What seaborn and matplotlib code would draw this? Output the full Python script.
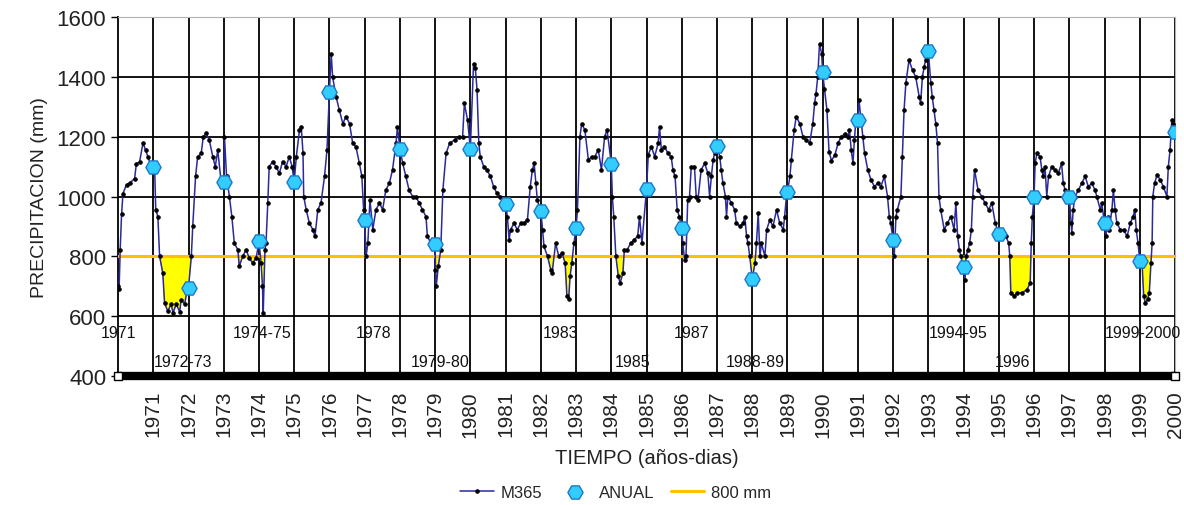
import numpy as np
import pandas as pd
import matplotlib
matplotlib.use("Agg")
import matplotlib.pyplot as plt
import seaborn as sns

# ---------------- data ----------------
# yearly totals (value of M365 at the end of each year)
years = list(range(1971, 2001))
anual = [1100, 695, 1050, 850, 1048, 1350, 920, 1160, 840, 1160,
         975, 950, 895, 1110, 1025, 895, 1170, 725, 1015, 1415,
         1255, 855, 1485, 765, 875, 1000, 1000, 910, 785, 1215]

# moving 365-day sum (x = decimal year, end of year Y sits at Y)
m365_x = [
    1970.00, 1970.03, 1970.06, 1970.10, 1970.14, 1970.24, 1970.33, 1970.47, 1970.52, 1970.61, 1970.71, 1970.78, 1970.85, 1970.94, 1971.00,
    1971.04, 1971.07, 1971.13, 1971.18, 1971.27, 1971.32, 1971.41, 1971.51, 1971.56, 1971.65, 1971.75, 1971.79, 1971.89, 1971.98, 1972.00,
    1972.08, 1972.12, 1972.20, 1972.26, 1972.36, 1972.42, 1972.50, 1972.59, 1972.69, 1972.76, 1972.83, 1972.92, 1973.00,
    1973.02, 1973.08, 1973.16, 1973.23, 1973.30, 1973.40, 1973.44, 1973.54, 1973.63, 1973.73, 1973.82, 1973.92, 1974.00,
    1974.06, 1974.10, 1974.12, 1974.17, 1974.20, 1974.25, 1974.29, 1974.39, 1974.48, 1974.58, 1974.67, 1974.77, 1974.86, 1974.94, 1975.00,
    1975.06, 1975.15, 1975.20, 1975.25, 1975.27, 1975.34, 1975.43, 1975.53, 1975.59, 1975.67, 1975.76, 1975.86, 1975.93, 1976.00,
    1976.05, 1976.09, 1976.19, 1976.28, 1976.38, 1976.47, 1976.57, 1976.66, 1976.75, 1976.85, 1976.92, 1976.97, 1977.00,
    1977.04, 1977.09, 1977.15, 1977.23, 1977.32, 1977.42, 1977.51, 1977.60, 1977.70, 1977.79, 1977.89, 1977.93, 1978.00,
    1978.08, 1978.17, 1978.26, 1978.36, 1978.45, 1978.55, 1978.64, 1978.74, 1978.78, 1978.88, 1979.00,
    1979.01, 1979.03, 1979.09, 1979.16, 1979.22, 1979.31, 1979.41, 1979.55, 1979.69, 1979.78, 1979.83, 1979.92, 1980.00,
    1980.09, 1980.14, 1980.19, 1980.24, 1980.28, 1980.38, 1980.47, 1980.57, 1980.66, 1980.75, 1980.85, 1980.94, 1981.00,
    1981.05, 1981.10, 1981.14, 1981.24, 1981.33, 1981.43, 1981.52, 1981.62, 1981.70, 1981.76, 1981.81, 1981.86, 1981.90, 1982.00,
    1982.05, 1982.09, 1982.19, 1982.28, 1982.32, 1982.42, 1982.51, 1982.60, 1982.69, 1982.74, 1982.79, 1982.83, 1982.88, 1982.94, 1983.00,
    1983.04, 1983.11, 1983.16, 1983.25, 1983.35, 1983.44, 1983.53, 1983.63, 1983.72, 1983.81, 1983.88, 1984.00,
    1984.03, 1984.07, 1984.13, 1984.20, 1984.25, 1984.33, 1984.37, 1984.45, 1984.55, 1984.65, 1984.75, 1984.80, 1984.87, 1985.00,
    1985.05, 1985.14, 1985.23, 1985.33, 1985.37, 1985.42, 1985.51, 1985.61, 1985.70, 1985.75, 1985.81, 1985.87, 1985.93, 1986.00,
    1986.03, 1986.08, 1986.12, 1986.17, 1986.22, 1986.27, 1986.36, 1986.41, 1986.46, 1986.55, 1986.65, 1986.74, 1986.79, 1986.84, 1986.89, 1986.93, 1987.00,
    1987.08, 1987.12, 1987.17, 1987.24, 1987.27, 1987.31, 1987.41, 1987.50, 1987.55, 1987.65, 1987.74, 1987.79, 1987.84, 1987.88, 1987.93, 1988.00,
    1988.08, 1988.12, 1988.17, 1988.22, 1988.26, 1988.36, 1988.41, 1988.50, 1988.59, 1988.69, 1988.78, 1988.88, 1988.92, 1988.97, 1989.00,
    1989.07, 1989.11, 1989.19, 1989.25, 1989.35, 1989.44, 1989.53, 1989.63, 1989.72, 1989.77, 1989.81, 1989.86, 1989.91, 1989.97, 1990.00,
    1990.05, 1990.12, 1990.18, 1990.25, 1990.35, 1990.44, 1990.53, 1990.63, 1990.72, 1990.76, 1990.81, 1990.86, 1990.90, 1990.95, 1991.00,
    1991.03, 1991.09, 1991.14, 1991.19, 1991.28, 1991.37, 1991.47, 1991.56, 1991.65, 1991.75, 1991.84, 1991.89, 1991.93, 1992.00,
    1992.03, 1992.08, 1992.12, 1992.22, 1992.26, 1992.31, 1992.36, 1992.45, 1992.55, 1992.64, 1992.74, 1992.78, 1992.83, 1992.88, 1992.92, 1993.00,
    1993.07, 1993.11, 1993.16, 1993.21, 1993.26, 1993.30, 1993.35, 1993.45, 1993.54, 1993.64, 1993.73, 1993.78, 1993.83, 1993.88, 1993.92, 1994.00,
    1994.04, 1994.07, 1994.12, 1994.17, 1994.22, 1994.26, 1994.31, 1994.41, 1994.51, 1994.61, 1994.71, 1994.80, 1994.90, 1995.00,
    1995.11, 1995.20, 1995.28, 1995.31, 1995.34, 1995.43, 1995.52, 1995.66, 1995.80, 1995.89, 1995.92, 1995.95, 1996.00,
    1996.03, 1996.08, 1996.17, 1996.22, 1996.26, 1996.31, 1996.36, 1996.41, 1996.50, 1996.59, 1996.69, 1996.78, 1996.83, 1996.88, 1996.92, 1997.00,
    1997.05, 1997.07, 1997.11, 1997.16, 1997.26, 1997.35, 1997.45, 1997.54, 1997.64, 1997.73, 1997.78, 1997.88, 1997.92, 1998.00,
    1998.04, 1998.10, 1998.13, 1998.21, 1998.25, 1998.30, 1998.35, 1998.45, 1998.54, 1998.64, 1998.73, 1998.81, 1998.86, 1998.90, 1998.95, 1999.00,
    1999.07, 1999.11, 1999.16, 1999.22, 1999.27, 1999.32, 1999.35, 1999.37, 1999.42, 1999.49, 1999.58, 1999.67, 1999.77, 1999.81, 1999.86, 1999.91, 1999.95, 2000.00,
]
m365_y = [
    700, 690, 820, 940, 1010, 1040, 1045, 1060, 1110, 1115, 1180, 1155, 1133, 1100, 1100,
    1090, 956, 933, 800, 744, 644, 617, 640, 611, 640, 615, 655, 640, 700, 695,
    800, 900, 1067, 1133, 1144, 1200, 1211, 1189, 1133, 1100, 1155, 1055, 1050,
    1200, 1067, 1000, 933, 844, 822, 767, 800, 822, 794, 778, 794, 850,
    778, 700, 610, 822, 844, 978, 1100, 1117, 1100, 1078, 1117, 1100, 1133, 1100, 1050,
    1133, 1222, 1233, 1144, 1000, 956, 911, 889, 867, 956, 978, 1067, 1155, 1350,
    1478, 1400, 1333, 1289, 1244, 1267, 1244, 1178, 1167, 1111, 1067, 956, 920,
    800, 844, 989, 889, 956, 978, 956, 1022, 1044, 1089, 1178, 1233, 1160,
    1111, 1067, 1022, 1000, 1000, 978, 956, 933, 867, 844, 840,
    756, 700, 767, 822, 1022, 1144, 1178, 1189, 1200, 1200, 1311, 1256, 1160,
    1444, 1430, 1356, 1178, 1133, 1100, 1089, 1067, 1033, 1011, 1000, 978, 975,
    933, 856, 889, 911, 889, 911, 911, 922, 1033, 1089, 1111, 1044, 989, 950,
    889, 833, 800, 756, 744, 844, 800, 811, 778, 667, 656, 733, 778, 844, 895,
    956, 1200, 1244, 1222, 1122, 1133, 1133, 1156, 1089, 1200, 1222, 1110,
    1000, 933, 800, 733, 711, 744, 822, 822, 844, 856, 867, 933, 844, 1025,
    1140, 1167, 1133, 1178, 1233, 1156, 1167, 1144, 1133, 1089, 1067, 956, 933, 895,
    844, 789, 800, 989, 1000, 1100, 1100, 1000, 989, 1089, 1111, 1078, 1000, 1067, 1122, 1144, 1170,
    1133, 1089, 1044, 1000, 933, 1000, 978, 956, 911, 900, 911, 933, 867, 844, 800, 725,
    778, 844, 944, 800, 844, 800, 889, 922, 900, 956, 911, 889, 933, 1000, 1015,
    1067, 1122, 1222, 1267, 1244, 1200, 1189, 1178, 1244, 1311, 1344, 1400, 1511, 1478, 1415,
    1360, 1290, 1150, 1120, 1140, 1180, 1200, 1210, 1200, 1222, 1156, 1111, 1189, 1265, 1255,
    1322, 1255, 1200, 1144, 1089, 1056, 1033, 1044, 1033, 1067, 1000, 933, 911, 855,
    800, 933, 956, 1000, 1133, 1289, 1378, 1456, 1422, 1400, 1333, 1311, 1400, 1433, 1456, 1485,
    1378, 1333, 1289, 1244, 1178, 1000, 956, 889, 911, 933, 889, 978, 867, 822, 800, 765,
    722, 800, 822, 844, 889, 1000, 1089, 1022, 1000, 978, 956, 978, 911, 875,
    878, 867, 844, 800, 678, 667, 678, 678, 689, 711, 844, 933, 1000,
    1111, 1144, 1133, 1089, 1067, 1100, 1000, 1067, 1100, 1089, 1078, 1111, 1044, 1022, 1000, 1000,
    911, 878, 956, 1000, 1022, 1044, 1067, 1033, 1044, 1022, 1000, 956, 978, 910,
    867, 933, 889, 956, 1022, 956, 911, 889, 889, 867, 911, 933, 956, 889, 844, 785,
    767, 667, 644, 656, 678, 778, 844, 1000, 1044, 1072, 1056, 1033, 1000, 1100, 1156, 1256, 1244, 1215,
]

umbral = 800
eje_x = [1970, 2000]
eje_y = [400, 400]

# dry-period labels
event_labels = ["1971", "1974-75", "1978", "1983", "1987", "1994-95", "1999-2000",
                "1972-73", "1979-80", "1985", "1988-89", "1996"]
event_x = [1970.0, 1974.08, 1977.24, 1982.57, 1986.29, 1993.84, 1999.1,
           1971.85, 1979.14, 1984.59, 1988.08, 1995.4]
event_y = [547, 547, 547, 547, 547, 547, 547,
           447, 447, 447, 447, 447]

df = pd.DataFrame({"t": m365_x, "m365": m365_y})
df_anual = pd.DataFrame({"t": years, "anual": anual})

# ---------------- plot ----------------
sns.set_style("white")
plt.rcParams["font.family"] = ["Liberation Sans", "DejaVu Sans"]

fig, ax = plt.subplots(figsize=(11.84, 5.06), dpi=100)
fig.subplots_adjust(left=0.0997, right=0.9924, top=0.9644, bottom=0.2549)

# yellow deficit area under 800 mm
y = np.array(m365_y, dtype=float)
ax.fill_between(m365_x, y, umbral, where=y < umbral, interpolate=True,
                color="#FFFF00", edgecolor="#9a9a00", linewidth=0.4, zorder=2)

sns.lineplot(data=df, x="t", y="m365", ax=ax, color="#2a2a9a", linewidth=1.1,
             marker=".", markersize=5, markerfacecolor="black", markeredgecolor="black",
             label="M365", zorder=4)
ax.plot([1970, 2000], [umbral, umbral], color="#FFC000", linewidth=2.2,
        label="800 mm", zorder=3)
sns.scatterplot(data=df_anual, x="t", y="anual", ax=ax, marker="H", s=120,
                color="#33CCFF", edgecolor="#1E78C8", linewidth=1.0,
                label="ANUAL", zorder=6)

# thick base axis line at 400
ax.plot(eje_x, eje_y, color="black", linewidth=6, solid_capstyle="butt",
        marker="s", markersize=6, markerfacecolor="white", markeredgecolor="black",
        zorder=5, clip_on=False)

for lab, xx, yy in zip(event_labels, event_x, event_y):
    ax.text(xx, yy, lab, ha="center", va="center", fontsize=11.5, color="#111111", zorder=7)

ax.set_xlim(1970, 2000)
ax.set_ylim(400, 1600)
ax.set_yticks(range(400, 1601, 200))
ax.set_xticks(years)
ax.set_xticklabels([str(a) for a in years], rotation=90, fontsize=15, color="#222222")
ax.tick_params(axis="y", labelsize=16, length=5, width=1, color="black", direction="out",
               left=True, labelcolor="#222222")
ax.tick_params(axis="x", length=0, pad=10)
ax.grid(True, color="black", linewidth=1.3, zorder=1)
ax.set_axisbelow(True)
ax.get_ygridlines()[-1].set_color("#b0b0b0")

for side in ["top", "right"]:
    ax.spines[side].set_color("#b0b0b0")
ax.spines["left"].set_color("black")
ax.spines["left"].set_linewidth(1.3)
ax.spines["bottom"].set_visible(False)

ax.set_xlabel("TIEMPO (años-dias)", fontsize=14.5, labelpad=8, color="#222222")
ax.set_ylabel("PRECIPITACION (mm)", fontsize=14, labelpad=6, color="#222222")

handles, labels = ax.get_legend_handles_labels()
order = [labels.index(n) for n in ["M365", "ANUAL", "800 mm"]]
if ax.legend_:
    ax.legend_.remove()
fig.legend([handles[i] for i in order], [labels[i] for i in order],
           loc="center", bbox_to_anchor=(0.52, 0.025), ncol=3, frameon=False,
           fontsize=12, handlelength=2.0, columnspacing=1.0, handletextpad=0.4)

fig.savefig("out.png", dpi=100)
